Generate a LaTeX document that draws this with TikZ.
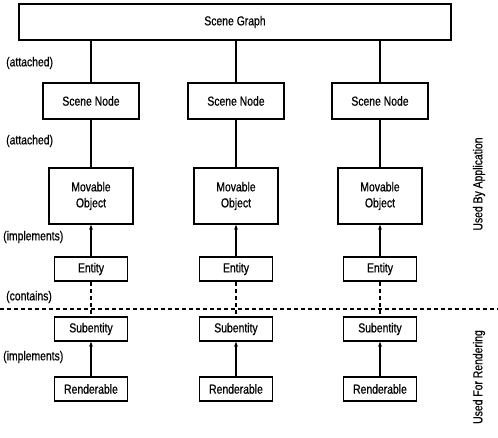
\documentclass[tikz,border=0pt]{standalone}
\usepackage{fontspec}
\setmainfont{Liberation Sans}[FakeStretch=0.8,FakeBold=0.6]
\usetikzlibrary{arrows.meta}
\begin{document}
\begin{tikzpicture}[x=1pt,y=-1pt,
  box/.style={draw,line width=1.6pt,inner sep=0pt,font=\fontsize{13}{16}\selectfont,align=center},
  lbl/.style={font=\fontsize{13}{14}\selectfont,inner sep=0pt},
  conn/.style={line width=1.6pt},
  arr/.style={line width=1.6pt,-{Stealth[length=5pt,width=4pt]}},
  dsh/.style={line width=1.6pt,dash pattern=on 4pt off 3pt}]
\fill[white] (0,0) rectangle (498,437);
\useasboundingbox (0,0) rectangle (498,437);
\node[box,minimum width=432pt,minimum height=36pt] (sg) at (235,22) {Scene Graph};
\foreach \i/\x in {1/91,2/236,3/380}{
  \node[box,minimum width=96pt,minimum height=36pt] (sn\i) at (\x,101) {Scene Node};
  \node[box,minimum width=84pt,minimum height=56pt] (mo\i) at (\x,196) {Movable\\Object};
  \node[box,minimum width=73pt,minimum height=24pt] (en\i) at (\x,269) {Entity};
  \node[box,minimum width=73pt,minimum height=24pt] (se\i) at (\x,329) {Subentity};
  \node[box,minimum width=73pt,minimum height=24pt] (re\i) at (\x,389) {Renderable};
  \draw[conn] (sg.south -| sn\i) -- (sn\i.north);
  \draw[conn] (sn\i.south) -- (mo\i.north);
  \draw[arr] (en\i.north) -- (mo\i.south);
  \draw[dsh] (en\i.south) -- (se\i.north);
  \draw[arr] (re\i.north) -- (se\i.south);
}
\coordinate (hl) at (0,309);
\coordinate (hr) at (498,309);
\draw[dsh] (hl) -- (hr);
\node[lbl,anchor=west] (l1) at (6,63) {(attached)};
\node[lbl,anchor=west] (l2) at (6,141) {(attached)};
\node[lbl,anchor=west] (l3) at (3,237) {(implements)};
\node[lbl,anchor=west] (l4) at (6,297) {(contains)};
\node[lbl,anchor=west] (l5) at (3,357) {(implements)};
\node[lbl,rotate=90] (ua) at (479,184) {Used By Application};
\node[lbl,rotate=90] (ur) at (479,377) {Used For Rendering};
\end{tikzpicture}
\end{document}
